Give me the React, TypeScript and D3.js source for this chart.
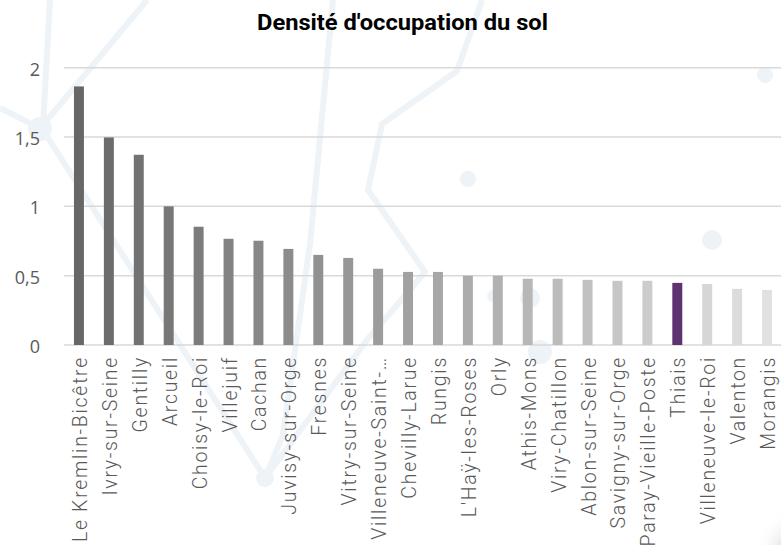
import { useEffect, useRef } from "react";
import * as d3 from "d3";

const communes: string[] = [
  "Le Kremlin-Bicêtre",
  "Ivry-sur-Seine",
  "Gentilly",
  "Arcueil",
  "Choisy-le-Roi",
  "Villejuif",
  "Cachan",
  "Juvisy-sur-Orge",
  "Fresnes",
  "Vitry-sur-Seine",
  "Villeneuve-Saint-Georges",
  "Chevilly-Larue",
  "Rungis",
  "L'Haÿ-les-Roses",
  "Orly",
  "Athis-Mons",
  "Viry-Chatillon",
  "Ablon-sur-Seine",
  "Savigny-sur-Orge",
  "Paray-Vieille-Poste",
  "Thiais",
  "Villeneuve-le-Roi",
  "Valenton",
  "Morangis",
];

const densite: number[] = [
  1.865, 1.497, 1.372, 1.0, 0.853, 0.766, 0.752, 0.693, 0.65, 0.628, 0.55,
  0.527, 0.527, 0.5, 0.5, 0.478, 0.478, 0.47, 0.463, 0.463, 0.448, 0.44,
  0.405, 0.397,
];

const yTicks: number[] = [0, 0.5, 1, 1.5, 2];
const highlighted: string[] = ["Thiais"];
const title = "Densité d'occupation du sol";

export default function App() {
  const svgRef = useRef<SVGSVGElement>(null);

  useEffect(() => {
    if (!svgRef.current) return;
    const width = 781;
    const height = 545;
    const svg = d3.select(svgRef.current);
    svg.selectAll("*").remove();
    svg.attr("width", width).attr("height", height);

    svg.append("rect").attr("width", width).attr("height", height).attr("fill", "#ffffff");

    // faint network decoration in the background
    const deco = svg.append("g").attr("fill", "none").attr("stroke", "#eef3f8").attr("stroke-width", 6).attr("stroke-linejoin", "round");
    const paths: [number, number][][] = [
      [[50, 0], [43, 125]],
      [[147, 0], [43, 125]],
      [[0, 108], [43, 130], [265, 478]],
      [[333, 0], [310, 244], [283, 435], [265, 478]],
      [[482, 0], [457, 71], [382, 124], [368, 190], [425, 272], [367, 340], [265, 478]],
    ];
    const line = d3.line();
    paths.forEach((p) => deco.append("path").attr("d", line(p)));
    const nodes: [number, number, number][] = [
      [40, 129, 12], [265, 478, 9], [468, 179, 8], [765, 75, 8], [712, 240, 10],
      [493, 296, 6], [530, 298, 10], [540, 352, 12],
    ];
    svg.append("g").selectAll("circle").data(nodes).enter().append("circle")
      .attr("cx", (d) => d[0]).attr("cy", (d) => d[1]).attr("r", (d) => d[2])
      .attr("fill", "#eef3f8");

    const defs = svg.append("defs");
    const grad = defs.append("radialGradient").attr("id", "corner");
    grad.append("stop").attr("offset", "0%").attr("stop-color", "#8a8096").attr("stop-opacity", 0.6);
    grad.append("stop").attr("offset", "100%").attr("stop-color", "#ffffff").attr("stop-opacity", 0);
    svg.append("ellipse").attr("cx", 795).attr("cy", 560).attr("rx", 40).attr("ry", 55).attr("fill", "url(#corner)");

    const x = d3.scaleBand<string>().domain(communes).range([64, 782]).paddingInner(0.667).paddingOuter(0.333);
    const y = d3.scaleLinear().domain([0, 2]).range([345, 67.7]);
    const grey = d3.scaleLinear<string>().domain([0, communes.length - 1]).range(["#676767", "#e1e1e1"]);

    // gridlines
    svg.append("g").selectAll("line").data(yTicks).enter().append("line")
      .attr("x1", 64).attr("x2", width)
      .attr("y1", (d) => y(d)).attr("y2", (d) => y(d))
      .attr("stroke", "#d9d9d9").attr("stroke-width", 1.5);

    // y tick labels
    svg.append("g").selectAll("text").data(yTicks).enter().append("text")
      .attr("x", 40).attr("y", (d) => y(d) + 1)
      .attr("text-anchor", "end").attr("dominant-baseline", "central")
      .attr("font-family", "'Open Sans', sans-serif").attr("font-size", 18)
      .attr("fill", "#595959")
      .text((d) => String(d).replace(".", ","));

    // bars
    svg.append("g").selectAll("rect").data(communes).enter().append("rect")
      .attr("x", (d) => x(d)!)
      .attr("width", x.bandwidth())
      .attr("y", (d, i) => y(densite[i]))
      .attr("height", (d, i) => y(0) - y(densite[i]))
      .attr("fill", (d, i) => (highlighted.includes(d) ? "#5e3370" : grey(i)));

    // category labels
    const label = (d: string) => (d.length > 19 ? d.slice(0, 17) + "…" : d);
    svg.append("g").selectAll("text").data(communes).enter().append("text")
      .attr("transform", (d) => `translate(${x(d)! + x.bandwidth() / 2 + 1.5},356) rotate(-90)`)
      .attr("text-anchor", "end").attr("dominant-baseline", "central")
      .attr("font-family", "Roboto, sans-serif").attr("font-size", 19.5).attr("font-weight", 300)
      .attr("letter-spacing", 1.7)
      .attr("fill", "#595959")
      .text(label);

    svg.append("text")
      .attr("x", 402.5).attr("y", 30)
      .attr("text-anchor", "middle")
      .attr("font-family", "Roboto, sans-serif").attr("font-weight", 700).attr("font-size", 22)
      .attr("textLength", 291).attr("lengthAdjust", "spacingAndGlyphs")
      .attr("fill", "#000000")
      .text(title);
  }, []);

  return (
    <div style={{ position: "absolute", left: 0, top: 0 }}>
      <svg ref={svgRef} style={{ display: "block" }}></svg>
    </div>
  );
}
